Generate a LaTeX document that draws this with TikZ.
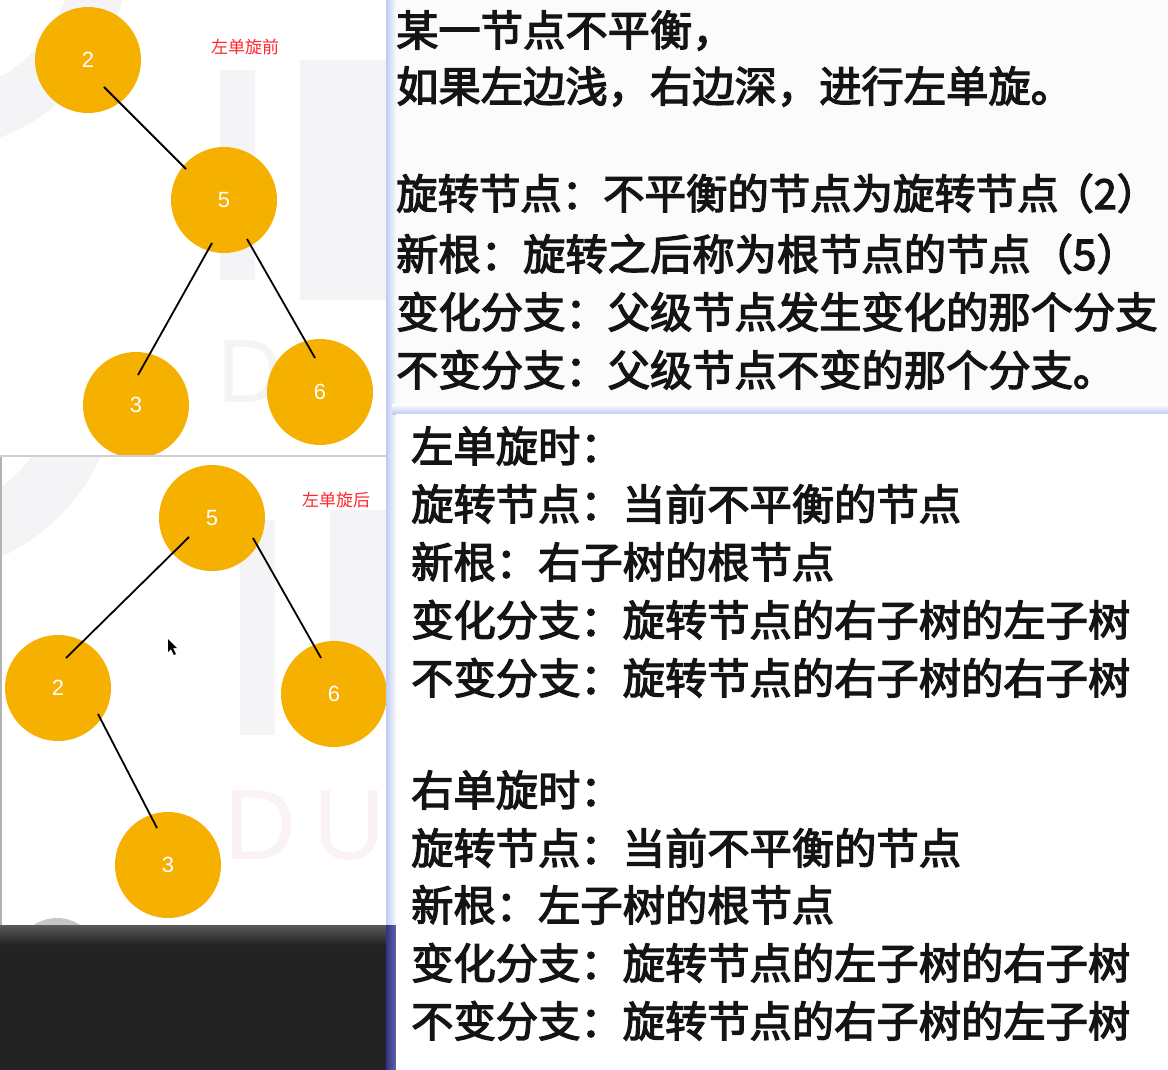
\documentclass[tikz,border=0pt]{standalone}
\usepackage{fontspec}
\usetikzlibrary{calc}
\newfontfamily\cjk{Noto Sans CJK SC}
\newfontfamily\cjkfb{Noto Sans CJK SC}[FakeBold=3]
\newfontfamily\numf{Liberation Sans}
\definecolor{nodeyellow}{RGB}{245,176,0}
\definecolor{lblred}{RGB}{255,40,45}
\definecolor{wm}{RGB}{244,244,247}
\definecolor{wmpink}{RGB}{250,242,243}
\definecolor{darkbg}{RGB}{35,35,35}
\definecolor{edgeblue}{RGB}{190,204,245}
\begin{document}
\begin{tikzpicture}[x=1pt,y=-1pt,
  bnode/.style={circle,fill=nodeyellow,minimum size=106pt,inner sep=0pt,text=white,font=\numf\fontsize{22}{22}\selectfont},
  edge/.style={line width=1.8pt,black},
  lbl/.style={text=lblred,font=\cjk\fontsize{17}{17}\selectfont,inner sep=0pt},
  txt/.style={anchor=base west,inner sep=0pt,font=\cjkfb\fontsize{42.3}{42.3}\selectfont,text=black!92}]
\useasboundingbox (0,0) rectangle (1168,1070);
% backgrounds
\fill[white] (0,0) rectangle (1168,1070);
\fill[black!1.5] (388,0) rectangle (1168,408);
% watermarks top-left
\draw[wm,line width=55pt] (-40,120) arc[start angle=80,end angle=-80,radius=170];
\fill[wm] (220,70) rectangle (255,280);
\fill[wm] (300,60) rectangle (388,300);
\node[text=wm,font=\numf\fontsize{90}{90}\selectfont,inner sep=0pt] (wmD1) at (250,372) {D};
% top-left tree
\node[bnode] (a2) at (88,60) {2};
\node[bnode] (a5) at (224,200) {5};
\node[bnode] (a3) at (136,405) {3};
\node[bnode] (a6) at (320,392) {6};
\draw[edge] ($(a2)+(16,27)$) -- ($(a5)+(-38,-31)$);
\draw[edge] ($(a5)+(-12,43)$) -- ($(a3)+(2,-30)$);
\draw[edge] ($(a5)+(23,39)$) -- ($(a6)+(-5,-34)$);
\node[lbl] (l1) at (245,47) {左单旋前};
% bottom-left panel
\fill[black!18] (0,455) rectangle (392,457);
\fill[black!30] (0,457) rectangle (2,925);
\begin{scope}
\clip (2,457) rectangle (392,925);
\fill[white] (2,457) rectangle (392,925);
\draw[wm,line width=60pt] (-40,540) arc[start angle=75,end angle=-75,radius=175];
\fill[wm] (240,520) rectangle (275,735);
\fill[wm] (330,510) rectangle (392,700);
\node[text=wmpink,font=\numf\fontsize{100}{100}\selectfont,inner sep=0pt] (wmDU) at (305,826) {D\,U};
\fill[black!22] (57,960) circle[radius=42];
\node[bnode] (b5) at (212,518) {5};
\node[bnode] (b2) at (58,688) {2};
\node[bnode] (b6) at (334,694) {6};
\node[bnode] (b3) at (168,865) {3};
\draw[edge] ($(b5)+(-23,19)$) -- ($(b2)+(8,-30)$);
\draw[edge] ($(b5)+(41,20)$) -- ($(b6)+(-13,-36)$);
\draw[edge] ($(b2)+(40,26)$) -- ($(b3)+(-11,-37)$);
\node[lbl] (l2) at (336,500) {左单旋后};
\fill[black] (168,639) -- (168,652) -- (171,649) -- (174,655) -- (176,654) -- (173,648) -- (177,648) -- cycle;
\end{scope}
% dark area
\fill[darkbg] (0,925) rectangle (392,1070);
\shade[top color=black!65,bottom color=darkbg] (0,925) rectangle (392,945);
% blue strips
\shade[left color=edgeblue,right color=white] (386,0) rectangle (397,925);
\shade[left color=blue!40!black!80,right color=blue!45!black!60] (386,925) rectangle (397,1070);
\shade[top color=white,bottom color=edgeblue] (392,404) rectangle (1168,414);
\fill[white] (396,414) rectangle (1168,1070);
% right text, top
\node[txt] (t1) at (396,46) {某一节点不平衡，};
\node[txt] (t2) at (396,102) {如果左边浅，右边深，进行左单旋。};
\node[txt,font=\cjkfb\fontsize{41.4}{41.4}\selectfont] (t3) at (396,209) {旋转节点：不平衡的节点为旋转节点\kern-.15em（2）\kern-.45em};
\node[txt] (t4) at (396,270) {新根：旋转之后称为根节点的节点（5）\kern-.45em};
\node[txt] (t5) at (396,328) {变化分支：父级节点发生变化的那个分支};
\node[txt] (t6) at (396,386) {不变分支：父级节点不变的那个分支。};
% right text, lower
\node[txt] (u1) at (411,462) {左单旋时：};
\node[txt] (u2) at (411,520) {旋转节点：当前不平衡的节点};
\node[txt] (u3) at (411,578) {新根：右子树的根节点};
\node[txt] (u4) at (411,636) {变化分支：旋转节点的右子树的左子树};
\node[txt] (u5) at (411,694) {不变分支：旋转节点的右子树的右子树};
\node[txt] (v1) at (411,806) {右单旋时：};
\node[txt] (v2) at (411,864) {旋转节点：当前不平衡的节点};
\node[txt] (v3) at (411,921) {新根：左子树的根节点};
\node[txt] (v4) at (411,979) {变化分支：旋转节点的左子树的右子树};
\node[txt] (v5) at (411,1037) {不变分支：旋转节点的右子树的左子树};
\end{tikzpicture}
\end{document}
